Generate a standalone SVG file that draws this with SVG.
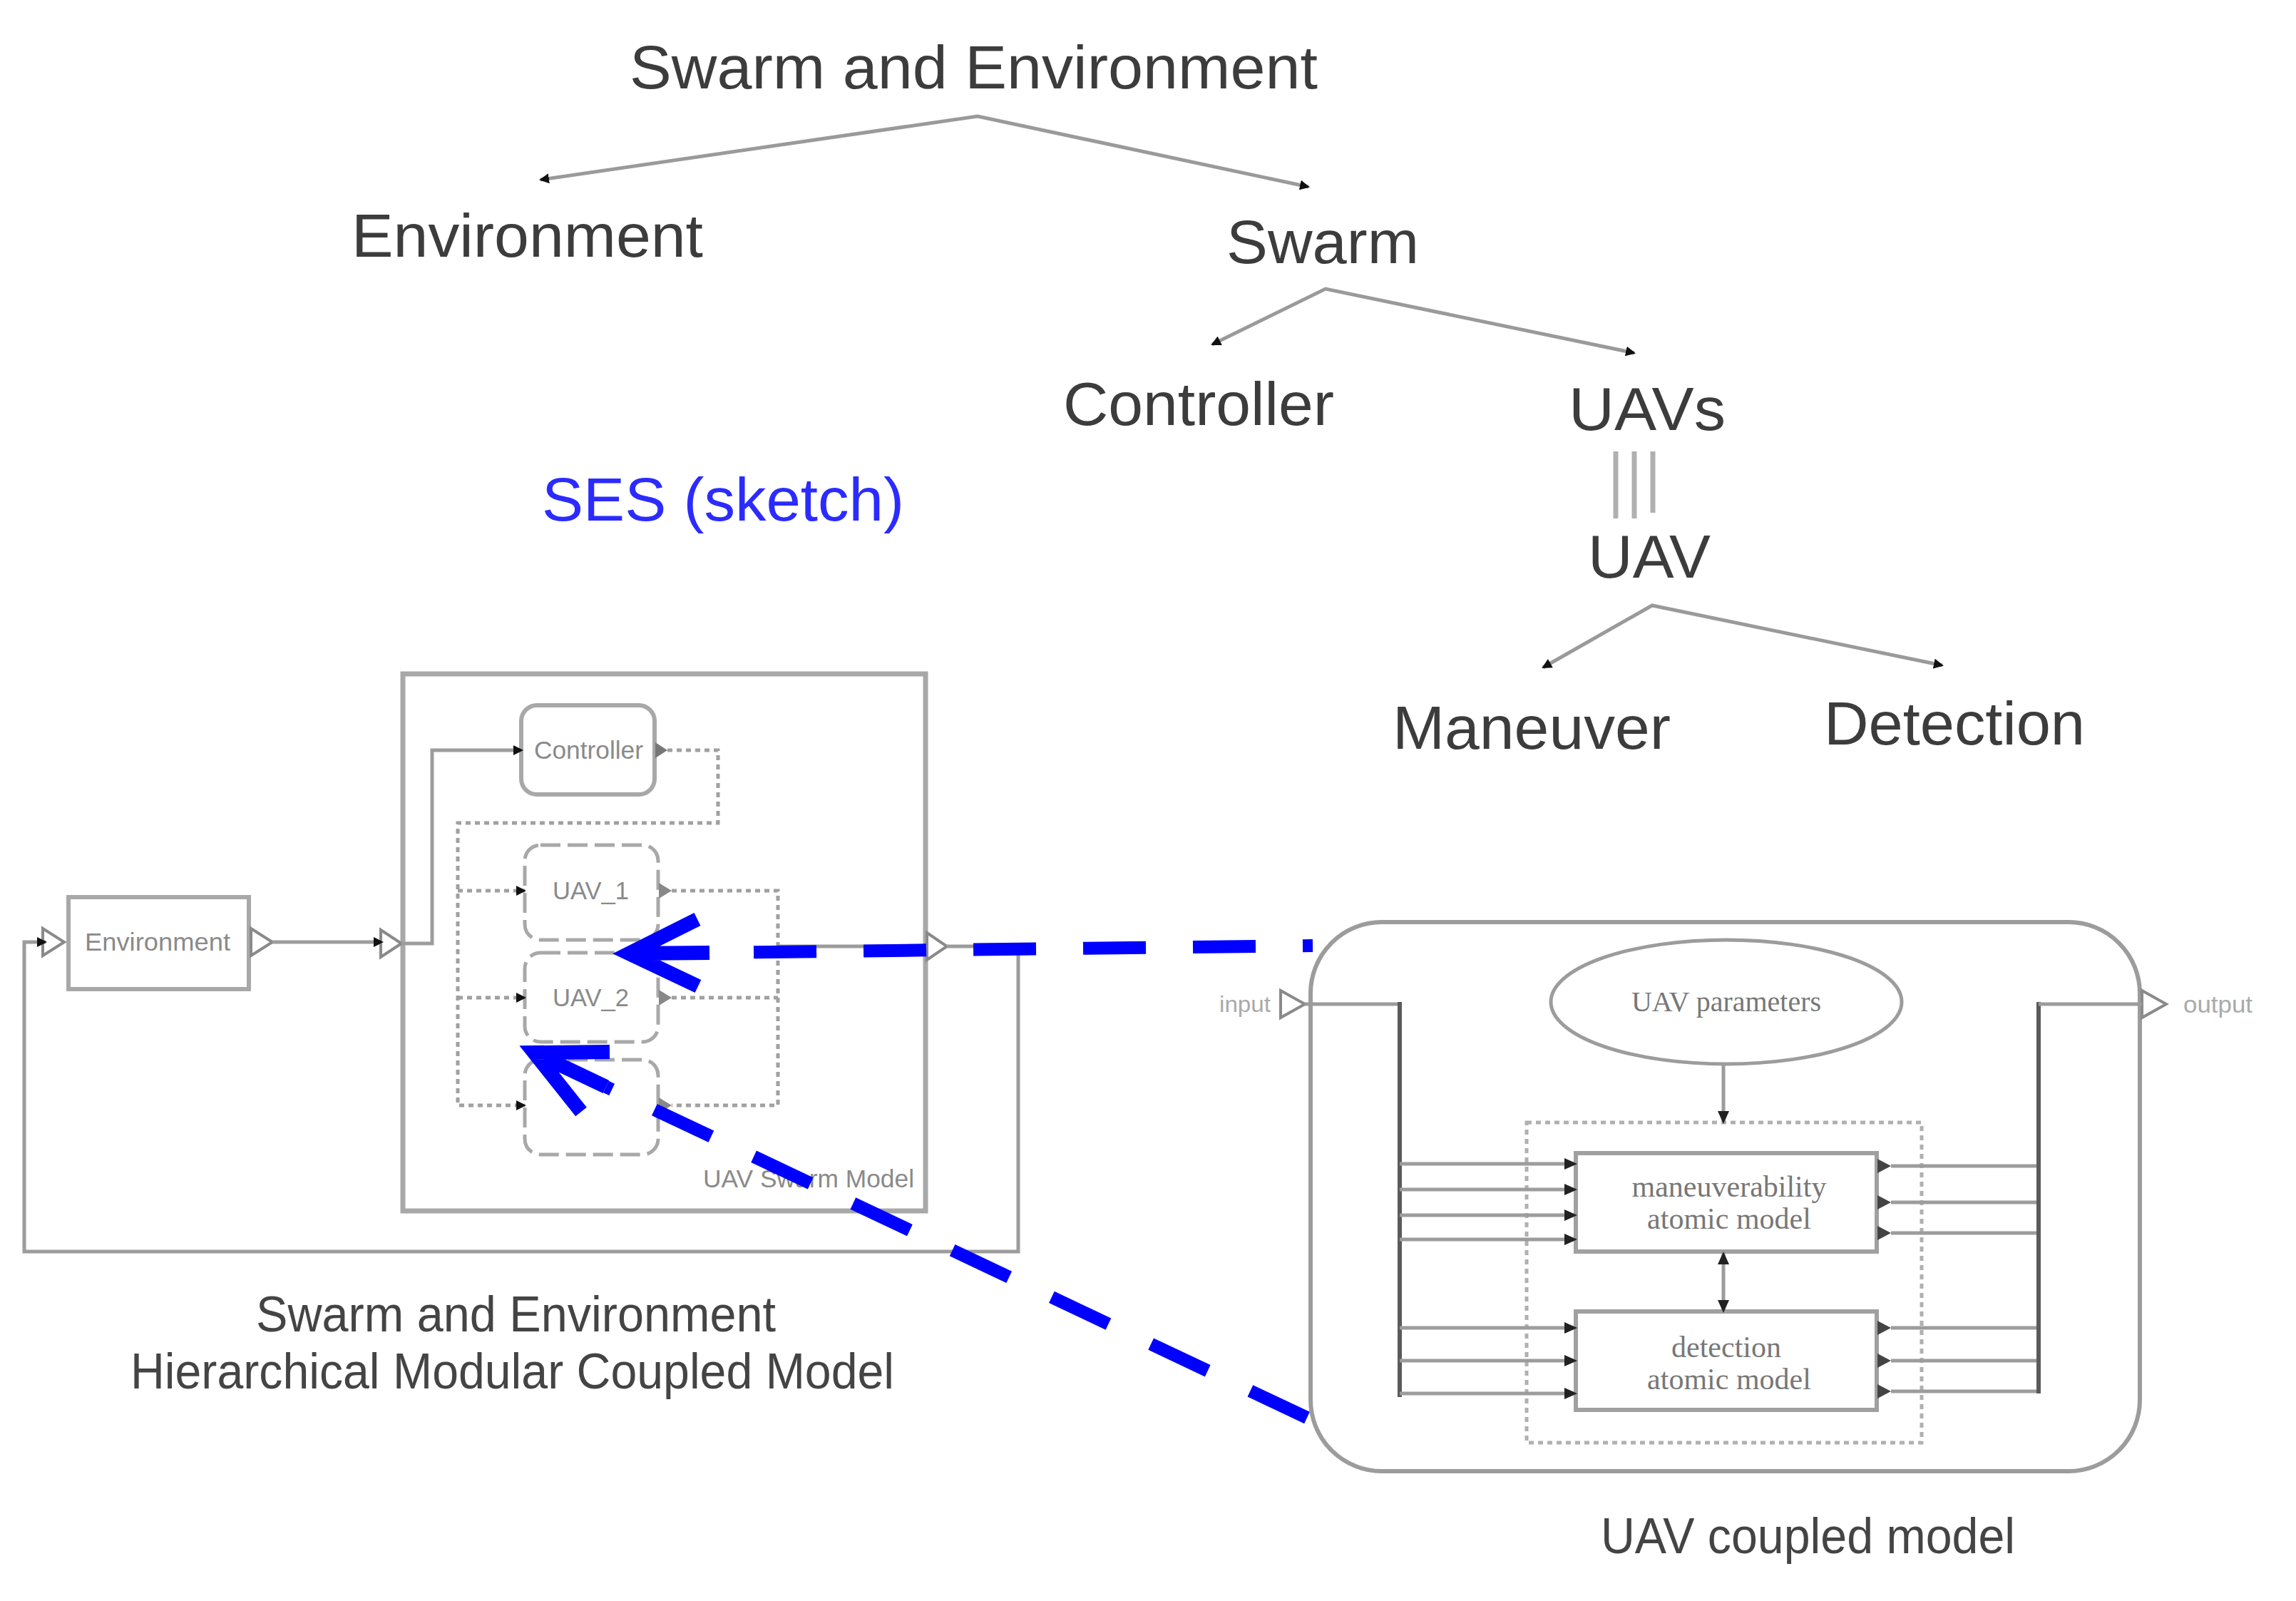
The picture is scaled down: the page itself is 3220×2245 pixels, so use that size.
<svg xmlns="http://www.w3.org/2000/svg" width="3220" height="2245" viewBox="0 0 3220 2245">
<style>
.t{font-family:"Liberation Sans",Arial,sans-serif;fill:#3c3c3c}
.big{font-size:86px}
.mid{font-size:70px;fill:#444}
.sm{font-size:35px;fill:#8a8a8a}
.sf{font-family:"Liberation Serif","Times New Roman",serif;font-size:42px;fill:#777}
.tree{stroke:#9a9a9a;stroke-width:5;fill:none}
.ln{stroke:#9c9c9c;stroke-width:5;fill:none}
.box{stroke:#a8a8a8;stroke-width:7;fill:none}
.dark{stroke:#5a5a5a;stroke-width:6;fill:none}
.dot{stroke:#a0a0a0;stroke-width:5;stroke-dasharray:7 6;fill:none}
.dbox{stroke:#a8a8a8;stroke-width:5;stroke-dasharray:28 10;fill:#fff}
.port{stroke:#8a8a8a;stroke-width:4;fill:#fff}
.blue{stroke:#0000ff;stroke-width:18;fill:none;stroke-dasharray:88 66}
.bhead{stroke:#0000ff;stroke-width:20;fill:none;stroke-linejoin:miter;stroke-miterlimit:10}
</style>
<defs>
<marker id="ah" markerUnits="userSpaceOnUse" markerWidth="14" markerHeight="14" refX="12" refY="7" orient="auto-start-reverse"><path d="M0,0 L14,7 L0,14 z" fill="#111"/></marker>
<marker id="sa" markerUnits="userSpaceOnUse" markerWidth="18" markerHeight="18" refX="16" refY="9" orient="auto-start-reverse"><path d="M0,1 L18,9 L0,17 z" fill="#222"/></marker>
</defs>
<rect width="3220" height="2245" fill="#fff"/>

<!-- SES tree -->
<g id="ses-root"><text class="t big" x="883" y="124" textLength="965" lengthAdjust="spacingAndGlyphs">Swarm and Environment</text></g>
<g id="ses-environment"><text class="t big" x="493" y="360" textLength="493" lengthAdjust="spacingAndGlyphs">Environment</text></g>
<g id="ses-swarm"><text class="t big" x="1720" y="369" textLength="270" lengthAdjust="spacingAndGlyphs">Swarm</text></g>
<g id="ses-controller"><text class="t big" x="1491" y="596" textLength="380" lengthAdjust="spacingAndGlyphs">Controller</text></g>
<g id="ses-uavs"><text class="t big" x="2200" y="603" textLength="220" lengthAdjust="spacingAndGlyphs">UAVs</text></g>
<g id="ses-uav"><text class="t big" x="2227" y="810" textLength="172" lengthAdjust="spacingAndGlyphs">UAV</text></g>
<g id="ses-maneuver"><text class="t big" x="1953" y="1050" textLength="390" lengthAdjust="spacingAndGlyphs">Maneuver</text></g>
<g id="ses-detection"><text class="t big" x="2558" y="1044" textLength="366" lengthAdjust="spacingAndGlyphs">Detection</text></g>
<g id="ses-label"><text class="t big" x="760" y="730" textLength="508" lengthAdjust="spacingAndGlyphs" style="fill:#2b2bff">SES (sketch)</text></g>

<!-- Left coupled model -->
<g id="environment-block">
<rect x="96" y="1258" width="253" height="129" class="box" style="stroke-width:6"/>
<text class="t sm" x="119" y="1333" textLength="204" lengthAdjust="spacingAndGlyphs">Environment</text>
<polygon class="port" points="60,1302 90,1321 60,1340"/>
<polygon class="port" points="352,1302 382,1321 352,1340"/>
</g>
<g id="swarm-model">
<rect x="565" y="945" width="733" height="753" class="box"/>
<polygon class="port" points="534,1304 563,1323 534,1342"/>
<polygon class="port" points="1300,1308 1328,1327 1300,1346"/>
<text class="t sm" x="986" y="1665" textLength="296" lengthAdjust="spacingAndGlyphs">UAV Swarm Model</text>
</g>
<g id="controller">
<rect x="731" y="989" width="187" height="125" rx="22" class="box" style="stroke-width:6"/>
<text class="t sm" x="749" y="1064" textLength="153" lengthAdjust="spacingAndGlyphs">Controller</text>
<polygon points="919,1041 936,1052 919,1063" fill="#777"/>
</g>
<g id="uav-1">
<rect x="736" y="1185" width="187" height="133" rx="22" class="dbox"/>
<text class="t sm" x="775" y="1261" textLength="107" lengthAdjust="spacingAndGlyphs">UAV_1</text>
<polygon points="924,1238 942,1249 924,1260" fill="#888"/>
</g>
<g id="uav-2">
<rect x="736" y="1336" width="187" height="125" rx="22" class="dbox"/>
<text class="t sm" x="775" y="1411" textLength="107" lengthAdjust="spacingAndGlyphs">UAV_2</text>
<polygon points="924,1388 942,1399 924,1410" fill="#888"/>
</g>
<g id="uav-3">
<rect x="736" y="1486" width="187" height="133" rx="22" class="dbox"/>
<polygon points="924,1539 942,1550 924,1561" fill="#888"/>
</g>

<!-- UAV coupled model -->
<g id="uav-coupled-model">
<rect x="1838" y="1293" width="1163" height="770" rx="100" class="box" style="stroke:#9c9c9c;stroke-width:6"/>
<polygon class="port" points="1796,1389 1830,1408 1796,1427"/>
<polygon class="port" points="3004,1389 3038,1408 3004,1427"/>
<text class="t sm" x="1710" y="1419" textLength="72" lengthAdjust="spacingAndGlyphs" style="font-size:32px;fill:#aaa">input</text>
<text class="t sm" x="3062" y="1420" textLength="97" lengthAdjust="spacingAndGlyphs" style="font-size:34px;fill:#aaa">output</text>
<rect x="2141" y="1574" width="554" height="449" class="dot" style="stroke:#b0b0b0"/>
</g>
<g id="uav-parameters">
<ellipse cx="2421" cy="1405" rx="246" ry="87" fill="#fff" stroke="#9c9c9c" stroke-width="5"/>
<text class="sf" x="2421" y="1418" text-anchor="middle" style="font-size:40px">UAV parameters</text>
</g>
<g id="maneuverability-atomic-model">
<rect x="2210" y="1617" width="422" height="138" fill="#fff" stroke="#a0a0a0" stroke-width="6"/>
<text class="sf" x="2425" y="1678" text-anchor="middle">maneuverability</text>
<text class="sf" x="2425" y="1723" text-anchor="middle">atomic model</text>
</g>
<g id="detection-atomic-model">
<rect x="2210" y="1839" width="422" height="138" fill="#fff" stroke="#a0a0a0" stroke-width="6"/>
<text class="sf" x="2421" y="1903" text-anchor="middle">detection</text>
<text class="sf" x="2425" y="1948" text-anchor="middle">atomic model</text>
</g>

<!-- Connectors -->
<g id="connectors">
<polyline class="tree" points="758,252 1371,163 1835,262" marker-start="url(#ah)" marker-end="url(#ah)"/>
<polyline class="tree" points="1700,483 1859,405 2292,495" marker-start="url(#ah)" marker-end="url(#ah)"/>
<polyline class="tree" points="2164,936 2317,849 2724,933" marker-start="url(#ah)" marker-end="url(#ah)"/>
<g stroke="#b0b0b0" stroke-width="7">
<line x1="2266" y1="633" x2="2266" y2="727"/>
<line x1="2292" y1="633" x2="2292" y2="727"/>
<line x1="2318" y1="633" x2="2318" y2="719"/>
</g>

<!-- left model links -->
<polyline class="ln" points="382,1321 536,1321" marker-end="url(#ah)"/>
<polyline class="ln" points="1328,1327 1428,1327 1428,1755 34,1755 34,1321 64,1321" marker-end="url(#ah)"/>
<polyline class="ln" points="563,1323 606,1323 606,1052 732,1052" marker-end="url(#ah)"/>
<polyline class="dot" points="936,1052 1007,1052 1007,1154 642,1154 642,1550 736,1550" marker-end="url(#ah)"/>
<polyline class="dot" points="642,1249 736,1249" marker-end="url(#ah)"/>
<polyline class="dot" points="642,1399 736,1399" marker-end="url(#ah)"/>
<polyline class="dot" points="942,1249 1091,1249 1091,1550 942,1550"/>
<polyline class="dot" points="942,1399 1091,1399"/>
<polyline class="ln" points="1091,1327 1300,1327"/>

<!-- UAV coupled model links -->
<polyline class="ln" points="1830,1408 1963,1408"/>
<line class="dark" x1="1963" y1="1405" x2="1963" y2="1959"/>
<g class="ln">
<line x1="1963" y1="1632" x2="2210" y2="1632" marker-end="url(#sa)"/>
<line x1="1963" y1="1668" x2="2210" y2="1668" marker-end="url(#sa)"/>
<line x1="1963" y1="1704" x2="2210" y2="1704" marker-end="url(#sa)"/>
<line x1="1963" y1="1738" x2="2210" y2="1738" marker-end="url(#sa)"/>
<line x1="1963" y1="1862" x2="2210" y2="1862" marker-end="url(#sa)"/>
<line x1="1963" y1="1908" x2="2210" y2="1908" marker-end="url(#sa)"/>
<line x1="1963" y1="1954" x2="2210" y2="1954" marker-end="url(#sa)"/>
</g>
<g fill="#444">
<polygon points="2633,1625 2652,1635 2633,1645"/>
<polygon points="2633,1676 2652,1686 2633,1696"/>
<polygon points="2633,1719 2652,1729 2633,1739"/>
<polygon points="2633,1852 2652,1862 2633,1872"/>
<polygon points="2633,1898 2652,1908 2633,1918"/>
<polygon points="2633,1941 2652,1951 2633,1961"/>
</g>
<g class="ln">
<line x1="2652" y1="1635" x2="2859" y2="1635"/>
<line x1="2652" y1="1686" x2="2859" y2="1686"/>
<line x1="2652" y1="1729" x2="2859" y2="1729"/>
<line x1="2652" y1="1862" x2="2859" y2="1862"/>
<line x1="2652" y1="1908" x2="2859" y2="1908"/>
<line x1="2652" y1="1951" x2="2859" y2="1951"/>
</g>
<line class="dark" x1="2859" y1="1405" x2="2859" y2="1954"/>
<polyline class="ln" points="2859,1408 3004,1408"/>
<line class="ln" x1="2417" y1="1492" x2="2417" y2="1574" marker-end="url(#sa)"/>
<line class="ln" x1="2417" y1="1757" x2="2417" y2="1839" marker-start="url(#sa)" marker-end="url(#sa)"/>

<!-- blue correspondence arrows -->
<line class="blue" x1="1841" y1="1326" x2="990" y2="1336" stroke-dashoffset="74"/>
<path class="bhead" d="M978,1289 L882,1337 L979,1383 M882,1337 L995,1336"/>
<line class="blue" x1="1833" y1="1988" x2="850" y2="1524"/>
<path class="bhead" d="M855,1475 L749,1476 L815,1559 M749,1476 L850,1524"/>
</g>

<!-- Captions -->
<g id="caption-left">
<text class="t mid" x="359" y="1867" textLength="729" lengthAdjust="spacingAndGlyphs">Swarm and Environment</text>
<text class="t mid" x="183" y="1947" textLength="1071" lengthAdjust="spacingAndGlyphs">Hierarchical Modular Coupled Model</text>
</g>
<g id="caption-right">
<text class="t mid" x="2245" y="2178" textLength="581" lengthAdjust="spacingAndGlyphs">UAV coupled model</text>
</g>
</svg>
